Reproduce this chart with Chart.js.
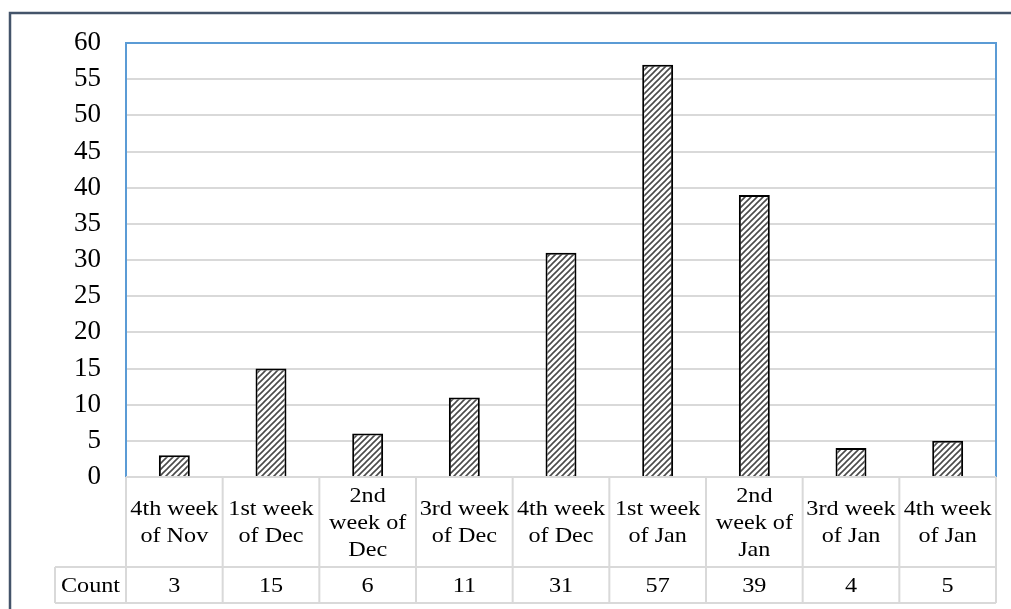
<!DOCTYPE html>
<html>
<head>
<meta charset="utf-8">
<script src="https://cdn.jsdelivr.net/npm/chart.js@4/dist/chart.umd.min.js"></script>
<style>
  html, body { margin: 0; padding: 0; background: #fff; }
  canvas { display: block; }
</style>
</head>
<body>
<canvas id="chart" width="1011" height="609"></canvas>
<script>
// Weekly counts, with the category names split into the lines shown in the table
const categories = [
  ["4th week", "of Nov"],
  ["1st week", "of Dec"],
  ["2nd", "week of", "Dec"],
  ["3rd week", "of Dec"],
  ["4th week", "of Dec"],
  ["1st week", "of Jan"],
  ["2nd", "week of", "Jan"],
  ["3rd week", "of Jan"],
  ["4th week", "of Jan"]
];
const counts = [3, 15, 6, 11, 31, 57, 39, 4, 5];
const seriesName = "Count";
const yMin = 0;
const yMax = 60;
const yStep = 5;

const serif = "'Liberation Serif', 'Times New Roman', serif";
const canvas = document.getElementById("chart");
const ctx0 = canvas.getContext("2d");

// Diagonal "///" hatch fill for the bars
function makeHatch() {
  const s = 6;
  const t = document.createElement("canvas");
  t.width = s; t.height = s;
  const g = t.getContext("2d");
  g.fillStyle = "#ffffff";
  g.fillRect(0, 0, s, s);
  g.strokeStyle = "#4a4a4a";
  g.lineWidth = 1.6;
  g.beginPath();
  g.moveTo(-1, s + 1); g.lineTo(s + 1, -1);
  g.moveTo(-1, 1); g.lineTo(1, -1);
  g.moveTo(s - 1, s + 1); g.lineTo(s + 1, s - 1);
  g.stroke();
  return ctx0.createPattern(t, "repeat");
}

// Draws a line of text slightly widened horizontally
function wideText(ctx, s, cx, cy, sx) {
  ctx.save();
  ctx.translate(cx, cy);
  ctx.scale(sx, 1);
  ctx.fillText(s, 0, 0);
  ctx.restore();
}

// Outer frame behind everything
const framePlugin = {
  id: "frame",
  beforeDraw(chart) {
    const ctx = chart.ctx;
    ctx.save();
    ctx.fillStyle = "#fff";
    ctx.fillRect(0, 0, chart.width, chart.height);
    ctx.strokeStyle = "#44546a";
    ctx.lineWidth = 2.5;
    ctx.beginPath();
    ctx.moveTo(10, chart.height);
    ctx.lineTo(10, 13);
    ctx.lineTo(chart.width, 13);
    ctx.stroke();
    ctx.restore();
  }
};

// Plot-area border and the data table under the bars
const tablePlugin = {
  id: "dataTable",
  afterDraw(chart) {
    const ctx = chart.ctx;
    const a = chart.chartArea;
    const x = chart.scales.x;
    const n = categories.length;
    const top = a.bottom;
    const mid = 567;
    const bot = 603;
    const labelLeft = 55;

    ctx.save();
    // blue frame on left, top and right of the plot area
    ctx.strokeStyle = "#5b9bd5";
    ctx.lineWidth = 2;
    ctx.beginPath();
    ctx.moveTo(a.left, a.bottom);
    ctx.lineTo(a.left, a.top);
    ctx.lineTo(a.right, a.top);
    ctx.lineTo(a.right, a.bottom);
    ctx.stroke();

    // table grid
    ctx.strokeStyle = "#d9d9d9";
    ctx.lineWidth = 2;
    ctx.beginPath();
    ctx.moveTo(a.left, top); ctx.lineTo(a.right, top);
    ctx.moveTo(labelLeft, mid); ctx.lineTo(a.right, mid);
    ctx.moveTo(labelLeft, bot); ctx.lineTo(a.right, bot);
    ctx.moveTo(labelLeft, mid); ctx.lineTo(labelLeft, bot);
    for (let i = 0; i <= n; i++) {
      const bx = x.getPixelForValue(i - 0.5);
      ctx.moveTo(bx, top); ctx.lineTo(bx, bot);
    }
    ctx.stroke();

    // texts
    ctx.fillStyle = "#000";
    ctx.font = "22px " + serif;
    ctx.textAlign = "center";
    ctx.textBaseline = "middle";
    const lh = 27;
    const sx = 1.1;
    const labelMid = (top + mid) / 2 + 1;
    for (let i = 0; i < n; i++) {
      const cx = x.getPixelForValue(i);
      const lines = categories[i];
      const y0 = labelMid - (lines.length - 1) * lh / 2;
      lines.forEach((ln, k) => wideText(ctx, ln, cx, y0 + k * lh, sx));
      wideText(ctx, String(counts[i]), cx, (mid + bot) / 2 + 1, sx);
    }
    wideText(ctx, seriesName, (labelLeft + a.left) / 2, (mid + bot) / 2 + 1, sx);
    ctx.restore();
  }
};

new Chart(canvas, {
  type: "bar",
  data: {
    labels: categories.map(c => c.join(" ")),
    datasets: [{
      label: seriesName,
      data: counts,
      backgroundColor: makeHatch(),
      borderColor: "#000",
      borderWidth: 2,
      borderSkipped: "bottom",
      barPercentage: 0.32,
      categoryPercentage: 1
    }]
  },
  options: {
    responsive: false,
    animation: false,
    layout: { padding: { left: 0, top: 43, right: 15, bottom: 132 } },
    plugins: { legend: { display: false }, tooltip: { enabled: false } },
    scales: {
      x: { display: false, offset: true },
      y: {
        min: yMin,
        max: yMax,
        ticks: {
          stepSize: yStep,
          padding: 25,
          color: "#000",
          font: { family: serif, size: 27 }
        },
        grid: { color: "#d9d9d9", lineWidth: 2, drawTicks: false },
        border: { display: false },
        afterFit(scale) { scale.width = 126; }
      }
    }
  },
  plugins: [framePlugin, tablePlugin]
});
</script>
</body>
</html>
